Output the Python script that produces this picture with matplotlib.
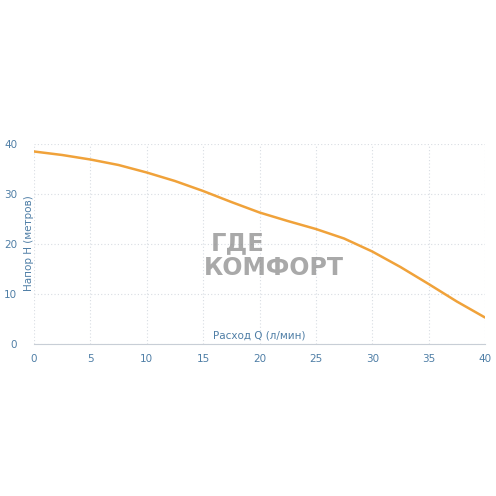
import numpy as np
import matplotlib
matplotlib.use("Agg")
import matplotlib.pyplot as plt

flow = [0, 2.5, 5, 7.5, 10, 12.5, 15, 17.5, 20, 22.5, 25, 27.5, 30, 32.5, 35, 37.5, 40]
head = [38.5, 37.8, 36.9, 35.8, 34.3, 32.6, 30.6, 28.4, 26.3, 24.6, 23.0, 21.1, 18.5, 15.4, 12.0, 8.5, 5.3]
x_ticks = [0, 5, 10, 15, 20, 25, 30, 35, 40]
y_ticks = [0, 10, 20, 30, 40]

tick_color = "#4f7ea6"
fig = plt.figure(figsize=(4.96, 4.96), dpi=100)
ax = fig.add_axes([34/496, 1-344/496, (485-34)/496, 200/496])
ax.set_xlim(0, 40)
ax.set_ylim(0, 40)
ax.set_xticks(x_ticks)
ax.set_yticks(y_ticks)
ax.grid(True, color="#d8dde3", linestyle=(0, (1, 2)), linewidth=0.8)
for s in ["top", "right", "left"]:
    ax.spines[s].set_visible(False)
ax.spines["bottom"].set_color("#c8ced6")
ax.tick_params(length=0, colors=tick_color, labelsize=7.5)
ax.tick_params(axis="y", pad=12)
ax.tick_params(axis="x", pad=7)

# watermark
fig.text(211/496, 1-250/496, "ГДЕ", fontsize=17.5, fontweight="bold", color="#8c8c8c", alpha=0.75, family="DejaVu Sans")
fig.text(204/496, 1-275/496, "КОМФОРТ", fontsize=17, fontweight="bold", color="#8c8c8c", alpha=0.75, family="DejaVu Sans")

ax.plot(flow, head, color="#f0a23a", linewidth=1.8, solid_capstyle="round")

ax.text(20, 0.8, "Расход Q (л/мин)", color=tick_color, fontsize=7.5, ha="center", va="bottom")
fig.text(29/496, 1-243/496, "Напор Н (метров)", color=tick_color, fontsize=7.5, rotation=90, ha="center", va="center")

fig.savefig("out.png", dpi=100, facecolor="white")
